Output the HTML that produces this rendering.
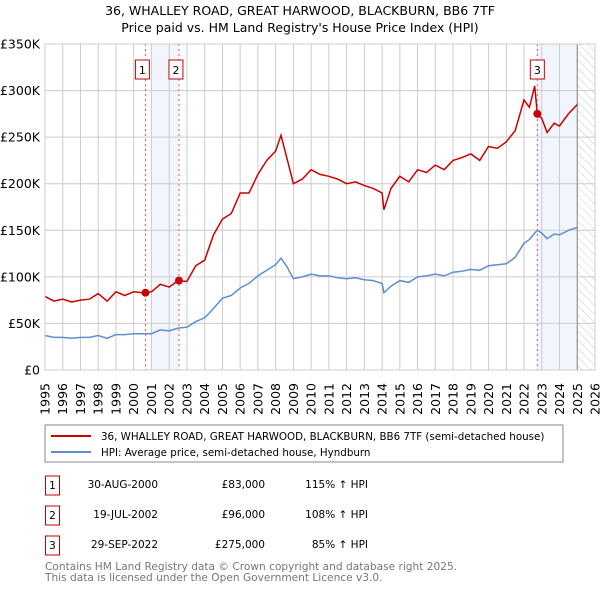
<!DOCTYPE html>
<html><head><meta charset="utf-8"><style>
body{margin:0;background:#fff;font-family:"Liberation Sans","DejaVu Sans",sans-serif}
svg text{font-family:"DejaVu Sans","Liberation Sans",sans-serif}
</style></head><body>
<svg id="c" width="600" height="590" xmlns="http://www.w3.org/2000/svg">
<defs><pattern id="hatch" width="6" height="6" patternUnits="userSpaceOnUse" patternTransform="rotate(-45)"><line x1="0" y1="0" x2="0" y2="6" stroke="#ccc" stroke-width="1"/></pattern></defs>
<text x="300" y="15" text-anchor="middle" font-size="12.5">36, WHALLEY ROAD, GREAT HARWOOD, BLACKBURN, BB6 7TF</text>
<text x="300" y="32" text-anchor="middle" font-size="12.5">Price paid vs. HM Land Registry's House Price Index (HPI)</text>
<g id="plot"></g>
<rect x="45" y="425" width="518" height="37" fill="#fff" stroke="#888"/>
<line x1="51" y1="436" x2="91" y2="436" stroke="#cc0000" stroke-width="2"/>
<text x="101" y="440" font-size="10.3">36, WHALLEY ROAD, GREAT HARWOOD, BLACKBURN, BB6 7TF (semi-detached house)</text>
<line x1="51" y1="452" x2="91" y2="452" stroke="#5b8fd0" stroke-width="2"/>
<text x="101" y="456" font-size="10.3">HPI: Average price, semi-detached house, Hyndburn</text>
<g font-size="10.5">
<rect x="45.5" y="476" width="14" height="19" fill="none" stroke="#cc0000"/><text x="52.5" y="489" text-anchor="middle">1</text>
<text x="158" y="488" text-anchor="end">30-AUG-2000</text><text x="265" y="488" text-anchor="end">£83,000</text><text x="368" y="488" text-anchor="end">115% ↑ HPI</text>
<rect x="45.5" y="506" width="14" height="19" fill="none" stroke="#cc0000"/><text x="52.5" y="519" text-anchor="middle">2</text>
<text x="158" y="518" text-anchor="end">19-JUL-2002</text><text x="265" y="518" text-anchor="end">£96,000</text><text x="368" y="518" text-anchor="end">108% ↑ HPI</text>
<rect x="45.5" y="536" width="14" height="19" fill="none" stroke="#cc0000"/><text x="52.5" y="549" text-anchor="middle">3</text>
<text x="158" y="548" text-anchor="end">29-SEP-2022</text><text x="265" y="548" text-anchor="end">£275,000</text><text x="368" y="548" text-anchor="end">85% ↑ HPI</text>
</g>
<text x="45" y="570" font-size="10.6" fill="#777">Contains HM Land Registry data © Crown copyright and database right 2025.</text>
<text x="45" y="581" font-size="10.6" fill="#777">This data is licensed under the Open Government Licence v3.0.</text>
</svg>
<script>
const hpiYears=[1995,1995.5,1996,1996.5,1997,1997.5,1998,1998.5,1999,1999.5,2000,2000.5,2001,2001.5,2002,2002.5,2003,2003.5,2004,2004.5,2005,2005.5,2006,2006.5,2007,2007.5,2008,2008.3,2008.6,2009,2009.5,2010,2010.5,2011,2011.5,2012,2012.5,2013,2013.5,2014,2014.1,2014.5,2015,2015.5,2016,2016.5,2017,2017.5,2018,2018.5,2019,2019.5,2020,2020.5,2021,2021.5,2022,2022.3,2022.6,2022.75,2023,2023.3,2023.7,2024,2024.5,2025];
const hpiValues=[37,35,35,34,35,35,37,34,38,38,39,39,39,43,42,45,46,52,56,66,77,80,88,93,101,107,113,120,112,98,100,103,101,101,99,98,99,97,96,93,83,90,96,94,100,101,103,101,105,106,108,107,112,113,114,121,136,140,147,150,147,141,146,145,150,153];
const propValues=[79,74,76,73,75,76,82,74,84,80,84,83,84,92,89,96,95,112,118,145,162,168,190,190,210,225,235,252,230,200,205,215,210,208,205,200,202,198,195,190,172,195,208,202,215,212,220,215,225,228,232,225,240,238,245,257,290,282,305,275,270,255,265,262,275,285];
const saleYears=[2000.66,2002.55,2022.75];
const salePrices=[83000,96000,275000];
const saleLabels=["1","2","3"];
const yTicks=[0,50,100,150,200,250,300,350];
const yTickLabels=["£0","£50K","£100K","£150K","£200K","£250K","£300K","£350K"];
const xTicks=[1995,1996,1997,1998,1999,2000,2001,2002,2003,2004,2005,2006,2007,2008,2009,2010,2011,2012,2013,2014,2015,2016,2017,2018,2019,2020,2021,2022,2023,2024,2025,2026];
const L=45,R=595,T=44,B=370;
const xs=y=>L+(y-1995)/(2026-1995)*(R-L);
const ys=v=>B-v/350*(B-T);
const NS="http://www.w3.org/2000/svg",g=document.getElementById('plot');
function mk(t,a,p){const e=document.createElementNS(NS,t);for(const k in a)e.setAttribute(k,a[k]);(p||g).appendChild(e);return e;}
let e;
e=mk('rect',{x:xs(2001),y:T,width:xs(2002.55)-xs(2001),height:B-T,fill:'#eef3fc',opacity:0.8});


e=mk('rect',{x:xs(2022.75),y:T,width:xs(2025)-xs(2022.75),height:B-T,fill:'#eef3fc',opacity:0.8});


e=mk('rect',{x:xs(2025),y:T,width:R-xs(2025),height:B-T,fill:'url(#hatch)'});


xTicks.forEach(y=>{
 e=mk('line',{x1:xs(y),x2:xs(y),y1:T,y2:B,stroke:'#ccc'});
 
 
 e=mk('text',{x:0,y:0,'font-size':12.5,'text-anchor':'end',transform:`translate(${xs(y)+4.5},383) rotate(-90)`});
 e.textContent=y;
 
 
});
yTicks.forEach((v,i)=>{
 e=mk('line',{x1:L,x2:R,y1:ys(v),y2:ys(v),stroke:'#ccc'});
 
 
 e=mk('text',{x:40,y:ys(v)+4.5,'font-size':12.5,'text-anchor':'end'});
 e.textContent=yTickLabels[i];
 
 
});
e=mk('line',{x1:xs(2025),x2:xs(2025),y1:T,y2:B,stroke:'#888'});


saleYears.forEach((y,i)=>{
 e=mk('line',{x1:xs(y),x2:xs(y),y1:T,y2:B,stroke:'#ee5555','stroke-dasharray':'2,3'});
 
 
});
const pts=a=>a.map((v,i)=>xs(hpiYears[i]).toFixed(1)+','+ys(v).toFixed(1)).join(' ');
e=mk('polyline',{points:pts(hpiValues),fill:'none',stroke:'#5b8fd0','stroke-width':1.5});


e=mk('polyline',{points:pts(propValues),fill:'none',stroke:'#cc0000','stroke-width':1.5});


saleYears.forEach((y,i)=>{
 e=mk('circle',{cx:xs(y),cy:ys(salePrices[i]/1000),r:4,fill:'#cc0000'});
 
 
 const bx=xs(y)-7-(i<2?3:0);
 e=mk('rect',{x:bx,y:60,width:14,height:19,fill:'#fff',stroke:'#cc0000'});
 
 
 e=mk('text',{x:bx+7,y:74,'font-size':11,'text-anchor':'middle'});
 e.textContent=saleLabels[i];
 
 
});
e=mk('rect',{x:L,y:T,width:R-L,height:B-T,fill:'none',stroke:'#ccc'});


</script>
</body></html>
